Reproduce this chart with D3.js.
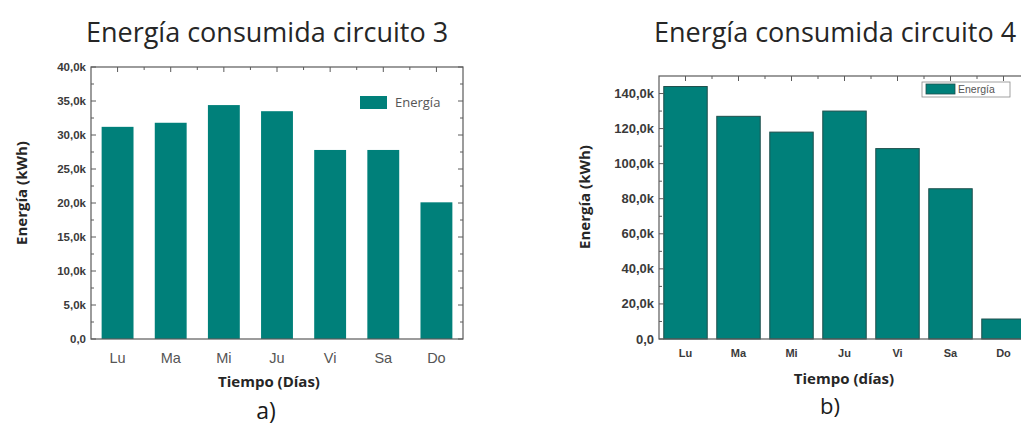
<!DOCTYPE html>
<html>
<head>
<meta charset="utf-8">
<script src="https://cdn.jsdelivr.net/npm/d3@7"></script>
<style>
  html, body { margin: 0; padding: 0; background: #ffffff; }
  svg { display: block; }
</style>
</head>
<body>
<svg id="chart" width="1021" height="426"></svg>
<script>
// Daily energy consumption of two circuits (kWh)
const days = ["Lu", "Ma", "Mi", "Ju", "Vi", "Sa", "Do"];
const circuit3 = [31200, 31800, 34400, 33500, 27800, 27800, 20100];
const circuit4 = [144000, 127000, 118000, 130000, 108600, 85700, 11400];
const ticks3 = [0, 5000, 10000, 15000, 20000, 25000, 30000, 35000, 40000];
const ticks4 = [0, 20000, 40000, 60000, 80000, 100000, 120000, 140000];

const svg = d3.select("#chart");
const teal = "#00807a";
const frameColor = "#5a5a5a";

// Spanish-style number format: "35,0k"
const es = d3.formatLocale({ decimal: ",", thousands: ".", grouping: [3], currency: ["", "€"] });
const fmt1 = es.format(".1f");
const kFormat = v => v === 0 ? "0,0" : fmt1(v / 1000) + "k";

function panel(cfg) {
  const g = svg.append("g");
  const { x0, x1, y0, y1 } = cfg;

  const x = d3.scaleBand().domain(days).range([x0, x1]).paddingInner(cfg.padInner).paddingOuter(cfg.padInner / 2);
  const y = d3.scaleLinear().domain(cfg.domain).range([y1, y0]);

  // bars
  g.selectAll("rect.bar").data(cfg.values).join("rect")
    .attr("class", "bar")
    .attr("x", (d, i) => x(days[i]))
    .attr("width", x.bandwidth())
    .attr("y", d => y(d))
    .attr("height", d => y(0) - y(d))
    .attr("fill", teal)
    .attr("stroke", cfg.barStroke || "none")
    .attr("stroke-width", cfg.barStroke ? 1 : 0);

  // frame
  g.append("rect")
    .attr("x", x0).attr("y", y0)
    .attr("width", x1 - x0).attr("height", y1 - y0)
    .attr("fill", "none").attr("stroke", frameColor).attr("stroke-width", 1.2);

  // inward ticks on left and right (major + minor)
  const step = cfg.ticks[1] - cfg.ticks[0];
  const minor = d3.range(cfg.domain[0] + step / 2, cfg.domain[1], step);
  const tickGroup = g.append("g").attr("stroke", frameColor).attr("stroke-width", 1);
  cfg.ticks.forEach(t => {
    tickGroup.append("line").attr("x1", x0).attr("x2", x0 + 5).attr("y1", y(t)).attr("y2", y(t));
    tickGroup.append("line").attr("x1", x1).attr("x2", x1 - 5).attr("y1", y(t)).attr("y2", y(t));
  });
  minor.forEach(t => {
    tickGroup.append("line").attr("x1", x0).attr("x2", x0 + 3).attr("y1", y(t)).attr("y2", y(t));
    tickGroup.append("line").attr("x1", x1).attr("x2", x1 - 3).attr("y1", y(t)).attr("y2", y(t));
  });
  // top ticks: major at category centres, minor between categories
  days.forEach((d, i) => {
    const c = x(d) + x.bandwidth() / 2;
    tickGroup.append("line").attr("x1", c).attr("x2", c).attr("y1", y0).attr("y2", y0 + 5);
    if (i > 0) {
      const b = (x(days[i - 1]) + x.bandwidth() + x(d)) / 2;
      tickGroup.append("line").attr("x1", b).attr("x2", b).attr("y1", y0).attr("y2", y0 + 3);
    }
  });

  // y tick labels
  g.append("g").selectAll("text").data(cfg.ticks).join("text")
    .attr("x", x0 - 5)
    .attr("y", d => y(d))
    .attr("dy", "0.35em")
    .attr("text-anchor", "end")
    .attr("font-family", "Liberation Sans, Arial, sans-serif")
    .attr("font-weight", "bold")
    .attr("font-size", cfg.yTickSize)
    .attr("fill", "#3a3a3a")
    .text(kFormat);

  // x tick labels
  g.append("g").selectAll("text").data(days).join("text")
    .attr("x", d => x(d) + x.bandwidth() / 2)
    .attr("y", cfg.xLabelY)
    .attr("dy", "0.35em")
    .attr("text-anchor", "middle")
    .attr("font-family", "Liberation Sans, Arial, sans-serif")
    .attr("font-weight", cfg.xLabelWeight)
    .attr("font-size", cfg.xTickSize)
    .attr("fill", cfg.xLabelColor)
    .text(d => d);

  // chart title
  g.append("text")
    .attr("x", cfg.titleX).attr("y", cfg.titleY)
    .attr("text-anchor", "middle")
    .attr("font-family", "Open Sans, sans-serif")
    .attr("font-size", 27)
    .attr("fill", "#262626")
    .text(cfg.title);

  // axis titles
  g.append("text")
    .attr("x", cfg.xTitleX).attr("y", cfg.xTitleY)
    .attr("text-anchor", "middle")
    .attr("font-family", "Open Sans, sans-serif")
    .attr("font-weight", "bold")
    .attr("font-size", cfg.axisTitleSize)
    .attr("fill", "#262626")
    .text(cfg.xTitle);

  g.append("text")
    .attr("transform", `translate(${cfg.yTitleX},${cfg.yTitleY}) rotate(-90)`)
    .attr("text-anchor", "middle")
    .attr("font-family", "Open Sans, sans-serif")
    .attr("font-weight", "bold")
    .attr("font-size", cfg.axisTitleSize)
    .attr("fill", "#262626")
    .text("Energía (kWh)");

  // panel tag
  g.append("text")
    .attr("x", cfg.tagX).attr("y", cfg.tagY)
    .attr("text-anchor", "middle")
    .attr("font-family", "Open Sans, sans-serif")
    .attr("font-size", cfg.tagSize)
    .attr("fill", "#1a1a1a")
    .text(cfg.tag);

  // legend
  const L = cfg.legend;
  if (L.box) {
    g.append("rect").attr("x", L.bx).attr("y", L.by).attr("width", L.bw).attr("height", L.bh)
      .attr("fill", "#ffffff").attr("stroke", "#8a8a8a").attr("stroke-width", 0.8);
  }
  g.append("rect").attr("x", L.sx).attr("y", L.sy).attr("width", L.sw).attr("height", L.sh)
    .attr("fill", teal).attr("stroke", cfg.barStroke || "none").attr("stroke-width", cfg.barStroke ? 0.8 : 0);
  g.append("text").attr("x", L.tx).attr("y", L.sy + L.sh / 2).attr("dy", "0.35em")
    .attr("font-family", L.font)
    .attr("font-size", L.size)
    .attr("fill", "#555555")
    .text("Energía");
}

panel({
  x0: 91, x1: 463, y0: 67, y1: 339,
  domain: [0, 40000], ticks: ticks3, values: circuit3,
  padInner: 0.4,
  yTickSize: 11.5, xTickSize: 14.5, xLabelY: 358, xLabelWeight: "normal", xLabelColor: "#555555",
  title: "Energía consumida circuito 3", titleX: 267, titleY: 42,
  xTitle: "Tiempo (Días)", xTitleX: 269, xTitleY: 387, axisTitleSize: 15,
  yTitleX: 27, yTitleY: 193,
  tag: "a)", tagX: 266, tagY: 419, tagSize: 23,
  legend: { box: false, sx: 360, sy: 96, sw: 27, sh: 13, tx: 395, size: 13, font: "Open Sans, sans-serif" }
});

panel({
  x0: 659, x1: 1030, y0: 76, y1: 339,
  domain: [0, 150000], ticks: ticks4, values: circuit4,
  padInner: 0.18, barStroke: "#1f4f4c",
  yTickSize: 13, xTickSize: 11, xLabelY: 353, xLabelWeight: "bold", xLabelColor: "#3a3a3a",
  title: "Energía consumida circuito 4", titleX: 835, titleY: 42,
  xTitle: "Tiempo (días)", xTitleX: 844, xTitleY: 384, axisTitleSize: 15,
  yTitleX: 590, yTitleY: 197,
  tag: "b)", tagX: 830, tagY: 414, tagSize: 22,
  legend: { box: true, bx: 922, by: 82, bw: 88, bh: 15, sx: 926, sy: 84, sw: 29, sh: 10, tx: 958, size: 10.5, font: "Liberation Sans, Arial, sans-serif" }
});
</script>
</body>
</html>
